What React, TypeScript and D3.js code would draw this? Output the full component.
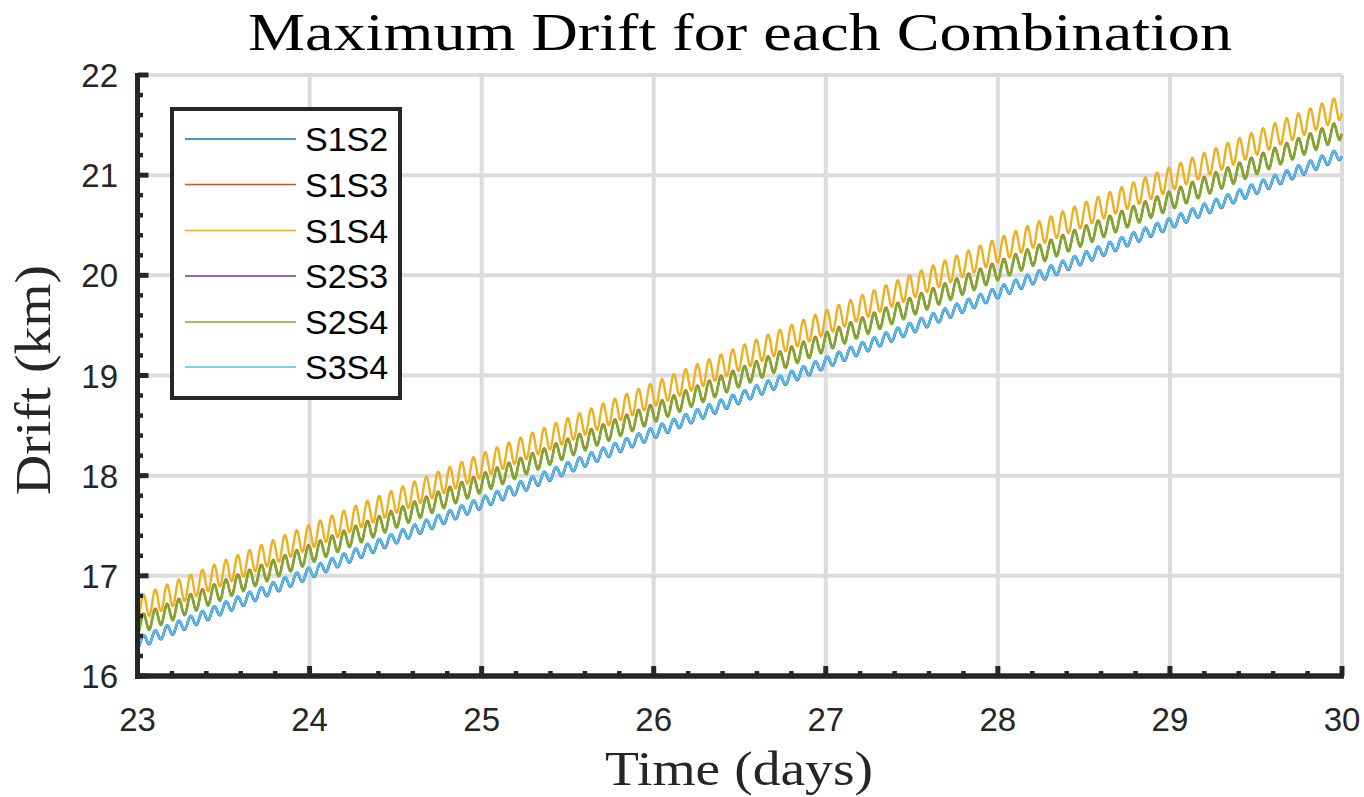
import React from "react";
import * as d3 from "d3";

// ---- Data ----
const days = [23, 24, 25, 26, 27, 28, 29, 30];
const seriesNames = ["S1S2", "S1S3", "S1S4", "S2S3", "S2S4", "S3S4"];
// mean drift (km) at each integer day
const s1s2Trend = [16.33, 17.03, 17.73, 18.43, 19.13, 19.83, 20.52, 21.22];
const s1s3Trend = [16.51, 17.22, 17.93, 18.63, 19.34, 20.05, 20.75, 21.46];
const s1s4Trend = [16.67, 17.39, 18.1, 18.81, 19.53, 20.25, 20.96, 21.68];
const s2s3Trend = [16.325, 17.025, 17.725, 18.425, 19.125, 19.825, 20.515, 21.215];
const s2s4Trend = [16.5, 17.21, 17.92, 18.62, 19.33, 20.04, 20.74, 21.45];
const s3s4Trend = [16.33, 17.03, 17.73, 18.43, 19.13, 19.83, 20.52, 21.22];
// half peak-to-peak of the orbital oscillation (km)
const amplitudes = [0.055, 0.09, 0.12, 0.055, 0.09, 0.055];
// oscillation cycles per day (orbital revolutions)
const cyclesPerDay = 14.6;
const colors = ["#0072BD", "#D95319", "#EDB120", "#7E2F8E", "#77AC30", "#4DBEEE"];
const xTicks = [23, 24, 25, 26, 27, 28, 29, 30];
const yTicks = [16, 17, 18, 19, 20, 21, 22];

const trends = [s1s2Trend, s1s3Trend, s1s4Trend, s2s3Trend, s2s4Trend, s3s4Trend];

const W = 1364;
const H = 797;
const ink = "#262626";

export default function App() {
  const x = d3.scaleLinear().domain([23, 30]).range([137.5, 1342]);
  const y = d3.scaleLinear().domain([16, 22]).range([676, 75]);
  const samples = d3.range(23, 30.00001, 1 / (cyclesPerDay * 24));

  const paths = trends.map((tr, i) => {
    const trendScale = d3.scaleLinear().domain(days).range(tr);
    const pts: [number, number][] = samples.map((t) => [
      t,
      trendScale(t) - amplitudes[i] * Math.cos(2 * Math.PI * cyclesPerDay * (t - 23)),
    ]);
    return d3
      .line<[number, number]>()
      .x((d) => x(d[0]))
      .y((d) => y(d[1]))(pts) as string;
  });

  const xMinor = d3.range(23, 30.0001, 0.2).filter((v) => Math.abs(v - Math.round(v)) > 1e-6);
  const yMinor = d3.range(16, 22.0001, 0.2).filter((v) => Math.abs(v - Math.round(v)) > 1e-6);

  const legendX = 172;
  const legendY = 109;
  const legendW = 228;
  const legendH = 289;
  const rowY = [139, 184.5, 230.5, 276, 322, 367];

  return (
    <svg
      width={W}
      height={H}
      style={{ position: "absolute", left: 0, top: 0, background: "#fff" }}
    >
      <rect x={0} y={0} width={W} height={H} fill="#fff" />
      {/* grid */}
      {xTicks.map((t) => (
        <line key={"gx" + t} x1={x(t)} x2={x(t)} y1={y(16)} y2={y(22)} stroke="#dcdcdc" strokeWidth={4} />
      ))}
      {yTicks.map((t) => (
        <line key={"gy" + t} x1={x(23)} x2={x(30)} y1={y(t)} y2={y(t)} stroke="#dcdcdc" strokeWidth={4} />
      ))}
      {/* data */}
      {paths.map((p, i) => (
        <path key={seriesNames[i]} d={p} fill="none" stroke={colors[i]} strokeWidth={2.4} strokeLinejoin="round" />
      ))}
      {/* axes */}
      <line x1={x(23)} x2={x(23)} y1={y(22) - 2} y2={y(16) + 3} stroke={ink} strokeWidth={5} />
      <line x1={x(23) - 2.5} x2={x(30) + 2} y1={y(16)} y2={y(16)} stroke={ink} strokeWidth={5.5} />
      {xTicks.map((t) => (
        <line key={"tx" + t} x1={x(t)} x2={x(t)} y1={y(16)} y2={y(16) - 10} stroke={ink} strokeWidth={5} />
      ))}
      {xMinor.map((t) => (
        <line key={"mx" + t} x1={x(t)} x2={x(t)} y1={y(16)} y2={y(16) - 5} stroke={ink} strokeWidth={4.5} />
      ))}
      {yTicks.map((t) => (
        <line key={"ty" + t} x1={x(23)} x2={x(23) + 11} y1={y(t)} y2={y(t)} stroke={ink} strokeWidth={5} />
      ))}
      {yMinor.map((t) => (
        <line key={"my" + t} x1={x(23)} x2={x(23) + 5.5} y1={y(t)} y2={y(t)} stroke={ink} strokeWidth={4.5} />
      ))}
      {/* tick labels */}
      {xTicks.map((t) => (
        <text
          key={"lx" + t}
          x={x(t)}
          y={731}
          textAnchor="middle"
          fontFamily="'Liberation Sans', Arial, sans-serif"
          fontSize={33}
          fill={ink}
        >
          {t}
        </text>
      ))}
      {yTicks.map((t) => (
        <text
          key={"ly" + t}
          x={118}
          y={y(t) + 12}
          textAnchor="end"
          fontFamily="'Liberation Sans', Arial, sans-serif"
          fontSize={33}
          fill={ink}
        >
          {t}
        </text>
      ))}
      {/* title and labels */}
      <text
        x={740}
        y={50}
        textAnchor="middle"
        fontFamily="'Liberation Serif', 'DejaVu Serif', serif"
        fontSize={53}
        fill="#000"
        textLength={984}
        lengthAdjust="spacingAndGlyphs"
      >
        Maximum Drift for each Combination
      </text>
      <text
        x={739}
        y={785}
        textAnchor="middle"
        fontFamily="'Liberation Serif', 'DejaVu Serif', serif"
        fontSize={49}
        fill={ink}
        textLength={268}
        lengthAdjust="spacingAndGlyphs"
      >
        Time (days)
      </text>
      <text
        transform={`translate(50, 380) rotate(-90)`}
        textAnchor="middle"
        fontFamily="'Liberation Serif', 'DejaVu Serif', serif"
        fontSize={50}
        fill={ink}
        textLength={230}
        lengthAdjust="spacingAndGlyphs"
      >
        Drift (km)
      </text>
      {/* legend */}
      <rect x={legendX} y={legendY} width={legendW} height={legendH} fill="#fff" stroke={ink} strokeWidth={4} />
      {seriesNames.map((n, i) => (
        <g key={"lg" + n}>
          <line x1={185} x2={296} y1={rowY[i]} y2={rowY[i]} stroke={colors[i]} strokeWidth={1.5} />
          <text
            x={305}
            y={rowY[i] + 12}
            fontFamily="'Liberation Sans', Arial, sans-serif"
            fontSize={34}
            fill="#000"
          >
            {n}
          </text>
        </g>
      ))}
    </svg>
  );
}
